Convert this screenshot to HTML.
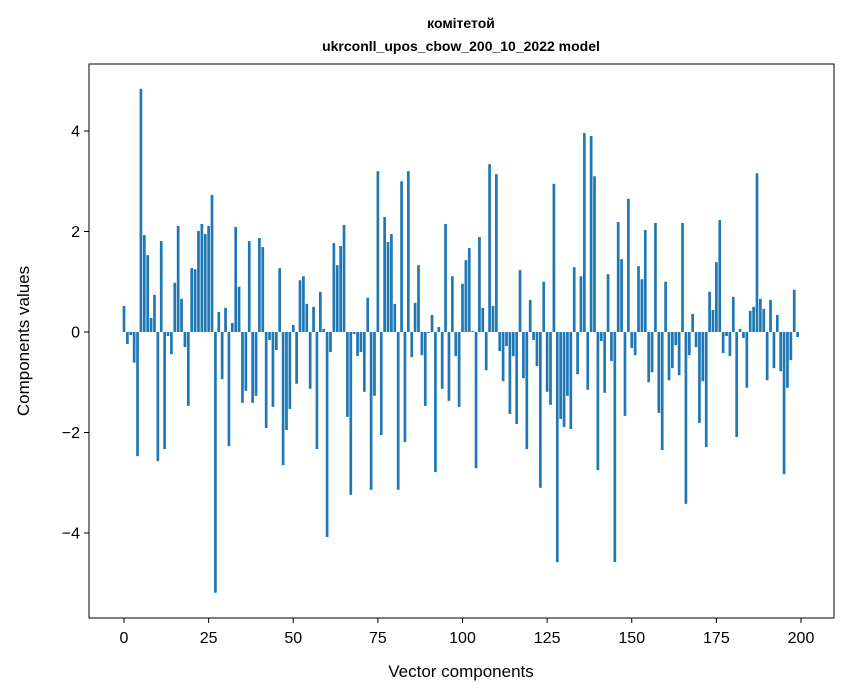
<!DOCTYPE html>
<html><head><meta charset="utf-8"><style>
body{margin:0;background:#fff;}
svg{display:block;font-family:"Liberation Sans","DejaVu Sans",sans-serif;}
</style></head><body>
<svg id="chart" width="847" height="696">
<rect width="847" height="696" fill="#fff"/>
<text x="461" y="28" text-anchor="middle" font-size="14" font-weight="bold">комітетой</text>
<text x="461" y="51" text-anchor="middle" font-size="14" font-weight="bold">ukrconll_upos_cbow_200_10_2022 model</text>
<g id="bars"></g>
<g id="xticks"></g>
<g id="yticks"></g>
<rect x="89" y="64" width="745" height="554" fill="none" stroke="#000" stroke-width="1"/>
<text x="461" y="677" text-anchor="middle" font-size="17">Vector components</text>
<text transform="translate(29,341) rotate(-90)" text-anchor="middle" font-size="17">Components values</text>
</svg>
<script>
const values = [0.52,-0.24,-0.06,-0.61,-2.47,4.84,1.93,1.53,0.28,0.74,-2.57,1.81,-2.33,-0.08,-0.44,0.98,2.11,0.66,-0.30,-1.47,1.27,1.25,2.01,2.15,1.95,2.11,2.73,-5.19,0.40,-0.94,0.48,-2.27,0.18,2.09,0.90,-1.41,-1.17,1.81,-1.41,-1.27,1.87,1.69,-1.91,-0.16,-1.49,-0.36,1.27,-2.65,-1.95,-1.53,0.14,-1.03,1.03,1.11,0.56,-1.13,0.50,-2.33,0.80,0.06,-4.08,-0.40,1.77,1.33,1.71,2.13,-1.69,-3.24,-0.04,-0.48,-0.40,-1.19,0.68,-3.14,-1.27,3.20,-2.05,2.29,1.79,1.95,0.56,-3.14,3.00,-2.19,3.20,-0.50,0.58,1.33,-0.46,-1.47,-0.02,0.34,-2.79,0.10,-1.13,2.15,-1.37,1.11,-0.48,-1.49,0.96,1.43,1.67,0.02,-2.71,1.89,0.48,-0.76,3.34,0.52,3.14,-0.38,-0.98,-0.28,-1.63,-0.48,-1.83,1.23,-0.92,-2.33,0.64,-0.16,-0.68,-3.10,1.00,-1.19,-1.45,2.95,-4.58,-1.73,-1.89,-1.27,-1.93,1.29,-0.84,1.11,3.96,-1.15,3.90,3.10,-2.75,-0.18,-1.21,1.15,-0.58,-4.58,2.19,1.45,-1.67,2.65,-0.32,-0.46,1.31,1.05,2.03,-1.00,-0.80,2.17,-1.61,-2.35,1.00,-0.96,-0.72,-0.26,-0.86,2.17,-3.42,-0.46,0.36,-0.30,-1.81,-0.98,-2.29,0.80,0.44,1.39,2.23,-0.42,-0.08,-0.48,0.70,-2.09,0.06,-0.12,-1.11,0.42,0.50,3.16,0.66,0.46,-0.96,0.64,-0.72,0.34,-0.78,-2.83,-1.11,-0.56,0.84,-0.10];
const xTicks = [0,25,50,75,100,125,150,175,200];
const yTicks = [-4,-2,0,2,4];
const NS="http://www.w3.org/2000/svg";
const xScale = v => 124 + v*(677/200);
const yScale = v => 332 - v*50.25;
const gb=document.getElementById('bars');
values.forEach((v,i)=>{
  const r=document.createElementNS(NS,'rect');
  const y0=yScale(0), y1=yScale(v);
  r.setAttribute('x',xScale(i-0.4));
  r.setAttribute('width',0.8*677/200);
  r.setAttribute('y',Math.min(y0,y1));
  r.setAttribute('height',Math.max(Math.abs(y1-y0),0.5));
  r.setAttribute('fill','#1f77b4');
  
  
  gb.appendChild(r);
});
const gx=document.getElementById('xticks');
xTicks.forEach(t=>{
  const x=xScale(t);
  const l=document.createElementNS(NS,'line');
  l.setAttribute('x1',x);l.setAttribute('x2',x);l.setAttribute('y1',618);l.setAttribute('y2',623);l.setAttribute('stroke','#000');
  
  
  gx.appendChild(l);
  const tx=document.createElementNS(NS,'text');
  tx.setAttribute('x',x);tx.setAttribute('y',643);tx.setAttribute('text-anchor','middle');tx.setAttribute('font-size','16');
  tx.textContent=t;
  
  
  gx.appendChild(tx);
});
const gy=document.getElementById('yticks');
yTicks.forEach(t=>{
  const y=yScale(t);
  const l=document.createElementNS(NS,'line');
  l.setAttribute('x1',84);l.setAttribute('x2',89);l.setAttribute('y1',y);l.setAttribute('y2',y);l.setAttribute('stroke','#000');
  
  
  gy.appendChild(l);
  const tx=document.createElementNS(NS,'text');
  tx.setAttribute('x',80);tx.setAttribute('y',y+5.5);tx.setAttribute('text-anchor','end');tx.setAttribute('font-size','16');
  tx.textContent=(t<0?'\u2212':'')+Math.abs(t);
  
  
  gy.appendChild(tx);
});
</script>
</body></html>
